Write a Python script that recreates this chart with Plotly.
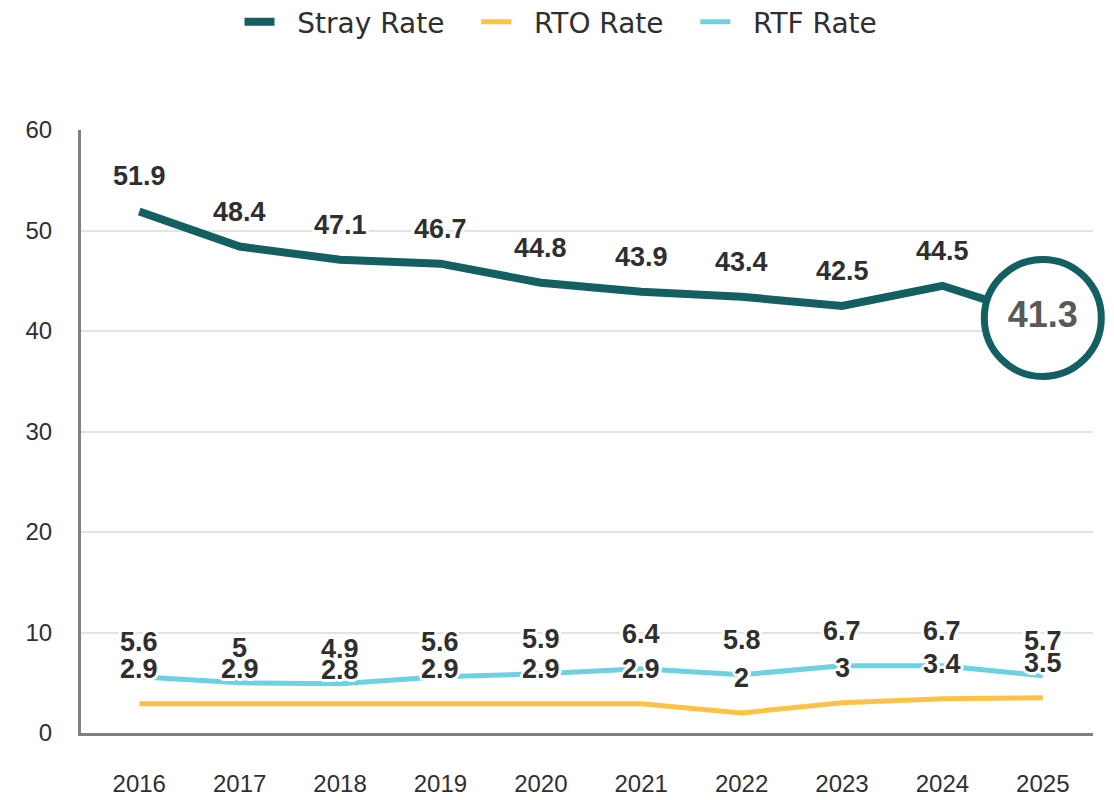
import plotly.graph_objects as go

years = ["2016", "2017", "2018", "2019", "2020", "2021", "2022", "2023", "2024", "2025"]
stray = [51.9, 48.4, 47.1, 46.7, 44.8, 43.9, 43.4, 42.5, 44.5, 41.3]
rto = [2.9, 2.9, 2.8, 2.9, 2.9, 2.9, 2.0, 3.0, 3.4, 3.5]
rtf = [5.6, 5.0, 4.9, 5.6, 5.9, 6.4, 5.8, 6.7, 6.7, 5.7]
y_ticks = [0, 10, 20, 30, 40, 50, 60]
series_names = ["Stray Rate", "RTO Rate", "RTF Rate"]

C_STRAY = "#135f62"
C_RTO = "#ffc247"
C_RTF = "#6cd1e1"
TXT = "#2f2f2f"
FONT = "Liberation Sans, Arial, sans-serif"
LEG_FONT = "DejaVu Sans, sans-serif"
HALO = ("3px 0 0 #fff, -3px 0 0 #fff, 0 3px 0 #fff, 0 -3px 0 #fff, "
        "2px 2px 0 #fff, -2px -2px 0 #fff, 2px -2px 0 #fff, -2px 2px 0 #fff")
LEAD = "\u00a0" * 2
TRAIL = "\u00a0" * 3

fig = go.Figure()
fig.add_trace(go.Scatter(x=years, y=stray, name=LEAD + series_names[0] + TRAIL, mode="lines",
                         line=dict(color=C_STRAY, width=8), cliponaxis=False))
fig.add_trace(go.Scatter(x=years, y=rto, name=LEAD + series_names[1] + TRAIL, mode="lines",
                         line=dict(color=C_RTO, width=5), cliponaxis=False))
fig.add_trace(go.Scatter(x=years, y=rtf, name=LEAD + series_names[2], mode="lines",
                         line=dict(color=C_RTF, width=5), cliponaxis=False))
# highlighted last value
fig.add_trace(go.Scatter(x=[years[-1]], y=[stray[-1]], mode="markers+text",
                         text=[f"{stray[-1]:g}"], textposition="middle center",
                         textfont=dict(size=36, color="#595959", family=FONT, weight="bold"),
                         marker=dict(size=117, color="white", line=dict(color=C_STRAY, width=7)),
                         showlegend=False, cliponaxis=False, hoverinfo="skip"))

annotations = []
for series, skip_last in ((stray, True), (rtf, False), (rto, False)):
    for i, v in enumerate(series):
        if skip_last and i == len(series) - 1:
            continue
        annotations.append(dict(x=i, y=v, xref="x", yref="y", text=f"{v:g}",
                                showarrow=False, yshift=35,
                                font=dict(size=27, color=TXT, family=FONT, weight="bold",
                                          shadow=HALO)))

fig.update_layout(
    width=1106, height=792,
    paper_bgcolor="white", plot_bgcolor="white",
    margin=dict(l=73, r=21, t=122, b=67, autoexpand=False),
    font=dict(family=FONT, color=TXT),
    legend=dict(orientation="h", x=0.5, xanchor="center", xref="container",
                y=1 - 14 / 792, yanchor="middle", yref="container",
                font=dict(size=28, color=TXT, family=LEG_FONT),
                itemwidth=30),
    annotations=annotations,
    showlegend=True,
)
fig.update_xaxes(type="category", range=[-0.58, 9.5], showgrid=False, automargin=False,
                 showline=True, linecolor="#808080", linewidth=3,
                 ticks="", tickfont=dict(size=24, color=TXT, family=FONT),
                 ticklabelstandoff=27)
fig.update_yaxes(range=[0, 60], tickvals=y_ticks, showgrid=True, gridcolor="#e3e3e3",
                 gridwidth=2, zeroline=False, showline=True, linecolor="#808080",
                 linewidth=3, ticks="", automargin=False,
                 tickfont=dict(size=24, color=TXT, family=FONT),
                 ticklabelstandoff=21)

fig.write_html("out.html")
